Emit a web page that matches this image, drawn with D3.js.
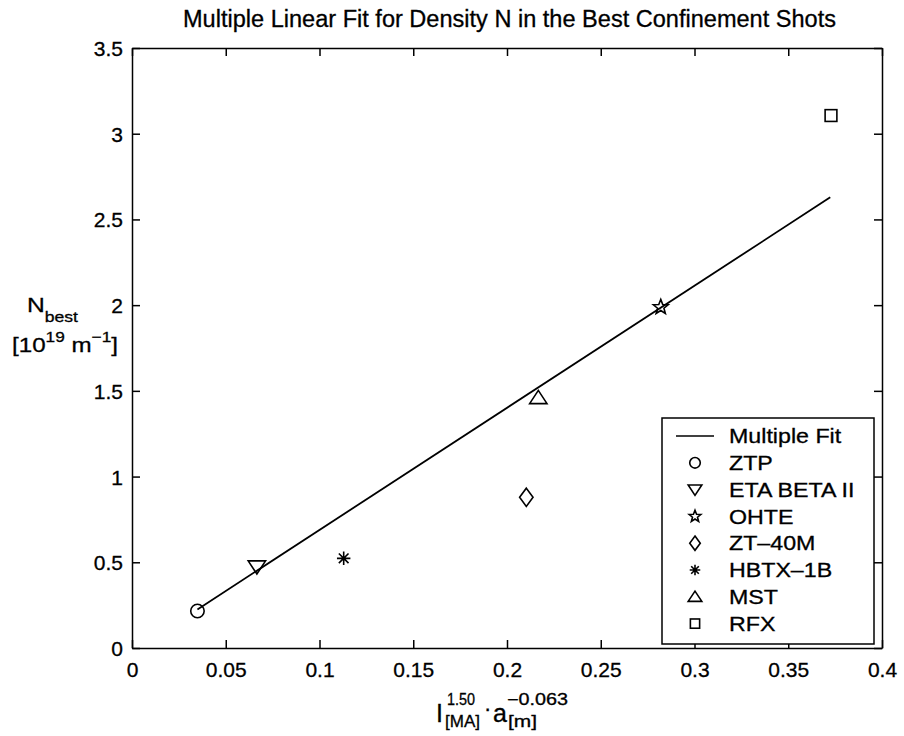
<!DOCTYPE html>
<html><head><meta charset="utf-8">
<script src="https://cdn.jsdelivr.net/npm/d3@7"></script>
<style>body{margin:0;background:#fff}svg{display:block}text{font-family:"Liberation Sans",Arial,sans-serif;fill:#000;stroke:#000;stroke-width:0.3px}</style>
</head><body><svg id="c" width="904" height="736"></svg>
<script>
const names = ["ZTP","ETA BETA II","OHTE","ZT\u201340M","HBTX\u20131B","MST","RFX"];
const xVals = [0.0349, 0.0666, 0.282, 0.2103, 0.1129, 0.2167, 0.3728];
const yVals = [0.216, 0.474, 1.988, 0.879, 0.523, 1.460, 3.106];
const markers = ["circle","triDown","pentagram","diamond","asterisk","triUp","square"];
const fitX = [0.0349, 0.3724];
const fitY = [0.225, 2.629];
const xTicks = [0,0.05,0.1,0.15,0.2,0.25,0.3,0.35,0.4];
const yTicks = [0,0.5,1,1.5,2,2.5,3,3.5];

const L=132,R=882,T=48,B=648;
const svg=d3.select("#c");
const x=d3.scaleLinear().domain([0,0.4]).range([L,R]);
const y=d3.scaleLinear().domain([0,3.5]).range([B,T]);
const fmt=d=>d===0?"0":String(d);
const tl=8;
function stretch(sel,k,w){const n=sel.node();const len=w||n.getComputedTextLength()*k;sel.attr("textLength",len).attr("lengthAdjust","spacingAndGlyphs");return sel;}
// axes
const gx=svg.append("g").attr("transform",`translate(0,${B})`).call(d3.axisBottom(x).tickValues(xTicks).tickFormat(fmt).tickSizeInner(-tl).tickSizeOuter(0).tickPadding(14));
const gxt=svg.append("g").attr("transform",`translate(0,${T})`).call(d3.axisTop(x).tickValues(xTicks).tickFormat("").tickSizeInner(-tl).tickSizeOuter(0));
const gy=svg.append("g").attr("transform",`translate(${L},0)`).call(d3.axisLeft(y).tickValues(yTicks).tickFormat(fmt).tickSizeInner(-tl).tickSizeOuter(0).tickPadding(9));
const gyr=svg.append("g").attr("transform",`translate(${R},0)`).call(d3.axisRight(y).tickValues(yTicks).tickFormat("").tickSizeInner(-tl).tickSizeOuter(0));
[gx,gxt,gy,gyr].forEach(g=>{g.selectAll("path,line").attr("stroke","#000").attr("stroke-width",1.5);g.selectAll("text").style("font-size","21px").attr("fill","#000");});
gx.selectAll("text").attr("dy","0.71em");
gy.selectAll("text").attr("dy","0.36em");
// fit line
svg.append("path").datum(fitX.map((v,i)=>[v,fitY[i]])).attr("d",d3.line().x(d=>x(d[0])).y(d=>y(d[1]))).attr("fill","none").attr("stroke","#000").attr("stroke-width",1.8);

function mark(g,type,cx,cy,s){
  const st={fill:"none",stroke:"#000","stroke-width":1.6};
  let el;
  if(type==="circle") el=g.append("circle").attr("cx",cx).attr("cy",cy).attr("r",s*0.48);
  else if(type==="square") el=g.append("rect").attr("x",cx-s*0.42).attr("y",cy-s*0.42).attr("width",s*0.84).attr("height",s*0.84);
  else if(type==="diamond") el=g.append("path").attr("d",`M${cx},${cy-s*0.65}L${cx+s*0.48},${cy}L${cx},${cy+s*0.65}L${cx-s*0.48},${cy}Z`);
  else if(type==="triDown") el=g.append("path").attr("d",`M${cx-s*0.62},${cy-s*0.42}L${cx+s*0.62},${cy-s*0.42}L${cx},${cy+s*0.52}Z`);
  else if(type==="triUp") el=g.append("path").attr("d",`M${cx-s*0.62},${cy+s*0.42}L${cx+s*0.62},${cy+s*0.42}L${cx},${cy-s*0.52}Z`);
  else if(type==="pentagram"){
    const pts=[];for(let i=0;i<10;i++){const a=-Math.PI/2+i*Math.PI/5;const r=i%2?s*0.24:s*0.56;pts.push([cx+r*Math.cos(a),cy+r*Math.sin(a)]);}
    el=g.append("path").attr("d","M"+pts.map(p=>p.join(",")).join("L")+"Z");
  } else if(type==="asterisk"){
    let d="";const r=s*0.48,q=r*0.72;
    d+=`M${cx},${cy-r}L${cx},${cy+r}M${cx-r},${cy}L${cx+r},${cy}`;
    d+=`M${cx-q},${cy-q}L${cx+q},${cy+q}M${cx-q},${cy+q}L${cx+q},${cy-q}`;
    el=g.append("path").attr("d",d);
  }
  Object.entries(st).forEach(([k,v])=>el.attr(k,v));
}
const pg=svg.append("g");
xVals.forEach((v,i)=>mark(pg,markers[i],x(v),y(yVals[i]),14));

// legend
const lg=svg.append("g");
const lx0=662,ly0=418,lx1=874,ly1=644;
lg.append("rect").attr("x",lx0).attr("y",ly0).attr("width",lx1-lx0).attr("height",ly1-ly0).attr("fill","#fff").attr("stroke","#000").attr("stroke-width",1.5);
const rowY=i=>436+i*26.8;
lg.append("line").attr("x1",676).attr("x2",714).attr("y1",rowY(0)).attr("y2",rowY(0)).attr("stroke","#000").attr("stroke-width",1.6);
stretch(lg.append("text").attr("x",729).attr("y",rowY(0)).attr("dy","0.36em").style("font-size","20px").text("Multiple Fit"),1.16);
names.forEach((n,i)=>{
  mark(lg,markers[i],695,rowY(i+1),11);
  stretch(lg.append("text").attr("x",729).attr("y",rowY(i+1)).attr("dy","0.36em").style("font-size","20px").text(n),1.16);
});

// title
stretch(svg.append("text").attr("x",183).attr("y",27).style("font-size","23px").text("Multiple Linear Fit for Density N in the Best Confinement Shots"),1,653);

// y label
const yl=svg.append("text").attr("x",27).attr("y",312).style("font-size","21px");
yl.append("tspan").text("N");
yl.append("tspan").attr("dy",10).style("font-size","15px").text("best");
stretch(yl,1,51);
const yl2=svg.append("text").attr("x",12).attr("y",352).style("font-size","21px");
yl2.append("tspan").text("[10");
yl2.append("tspan").attr("dy",-10).style("font-size","15px").text("19");
yl2.append("tspan").attr("dy",10).text(" m");
yl2.append("tspan").attr("dy",-10).style("font-size","15px").text("\u22121");
yl2.append("tspan").attr("dy",10).text("]");
stretch(yl2,1,106);

// x label
const xlab=svg.append("g");
xlab.append("text").attr("x",436).attr("y",722).style("font-size","25px").text("I");
stretch(xlab.append("text").attr("x",447).attr("y",705).style("font-size","16px").text("1.50"),1,28);
stretch(xlab.append("text").attr("x",445).attr("y",727).style("font-size","16px").text("[MA]"),1,35);
xlab.append("text").attr("x",484).attr("y",716).style("font-size","22px").text("\u00b7");
xlab.append("text").attr("x",493).attr("y",722).style("font-size","25px").text("a");
stretch(xlab.append("text").attr("x",507).attr("y",705).style("font-size","16px").text("\u22120.063"),1,61);
stretch(xlab.append("text").attr("x",508).attr("y",727).style("font-size","16px").text("[m]"),1,29);
</script></body></html>
